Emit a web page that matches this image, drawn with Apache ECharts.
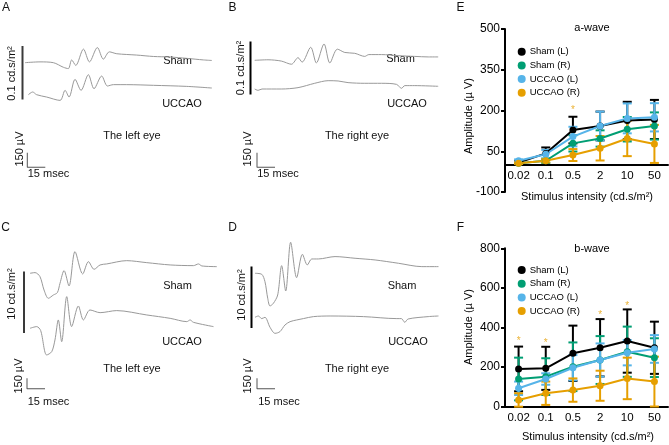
<!DOCTYPE html>
<html><head><meta charset="utf-8">
<script src="https://cdn.jsdelivr.net/npm/echarts@6/dist/echarts.min.js"></script>
<style>html,body{margin:0;padding:0;background:#fff}#c{width:669px;height:445px}</style>
</head><body><div id="c"></div>
<script>
// ---------- DATA ----------
// ERG traces: [time (ms), amplitude (µV)]
const aShamTrace = [[0,0],[12.5,10],[23.6,0],[32,-59],[36.1,-76],[38.9,35],[42.3,-35],[48.7,173],[53.7,10],[60.3,193],[65.3,45],[70.3,138],[76.5,114],[93.1,97],[107,79],[121,72],[134.8,55],[148.7,35],[155.7,28]];
const aUccaoTrace = [[2.8,0],[6.4,28],[9.7,0],[18,-24],[29.2,-59],[33.4,45],[36.7,-24],[41.7,159],[46.7,45],[52.8,207],[57.5,62],[63.9,193],[68.7,90],[73.7,104],[84.8,104],[107,97],[134.8,86],[155.7,69]];
const bShamTrace = [[0,0],[11.1,7],[22.2,-10],[30.6,-52],[36.1,35],[39.5,-24],[46.7,173],[51.4,-35],[57.8,217],[62.6,-35],[68.9,148],[75.1,104],[83.4,93],[91.7,52],[95.1,76],[105.6,76],[119.5,62],[133.4,52],[144.6,45],[152.9,45]];
const bUccaoTrace = [[0,0],[2.8,-14],[6.1,0],[22.2,0],[36.1,14],[50,59],[61.2,86],[69.5,83],[77.8,66],[91.7,59],[105.6,59],[118.2,48],[122.3,7],[125.1,35],[133.4,35],[152.9,28]];
const cShamTrace = [[0,0],[4.2,9],[8.3,-43],[11.7,-218],[15.3,-326],[19.5,-283],[22.8,-252],[25,-130],[28.4,35],[32.5,-165],[37.5,283],[43.9,-9],[48.7,152],[53.4,52],[58.4,109],[63.9,122],[80.6,165],[97.3,139],[116.8,109],[136.2,100],[140.4,122],[143.2,96],[155.7,87]];
const cUccaoTrace = [[0,0],[5.6,22],[8.9,-30],[13.9,-348],[18.1,-305],[20.8,-152],[23.6,109],[26.4,-174],[30.6,413],[34.7,22],[40.3,291],[44.5,109],[50,239],[58.4,204],[72.3,231],[97.3,174],[116.8,130],[130.7,87],[133.4,109],[136.2,78],[152.9,22]];
const dShamTrace = [[0,0],[5.6,-13],[8.3,-109],[10.6,-326],[12.5,-426],[15.3,-392],[18.9,-283],[22.2,100],[25.6,-231],[29.7,405],[34.7,-57],[39.5,248],[43.6,109],[47.3,187],[52.8,187],[66.7,218],[83.4,196],[100.1,174],[119.5,131],[139,87],[152.9,87]];
const dUccaoTrace = [[0,0],[2.8,17],[5.6,-17],[8.3,0],[12.5,-130],[16.7,-209],[20.8,-187],[25,-100],[29.2,-57],[34.7,-35],[40.3,-17],[48.7,9],[62.6,17],[90.4,9],[118.2,-17],[122,-17],[124.8,-65],[127.6,-22],[144.3,9],[152.9,17]];
// scale bar: 150 µV vertical, 15 msec horizontal
const scaleBar = [[0,150],[0,0],[15,0]];

// E / F charts
const intensities = ['0.02','0.1','0.5','2','10','50'];
const seriesNames = ['Sham (L)','Sham (R)','UCCAO (L)','UCCAO (R)'];
// a-wave means and SD
const aShamL = [8,42,128,143,163,167];
const aShamLsd = [5,22,49,53,69,72];
const aShamR = [6,15,79,97,131,143];
const aShamRsd = [3,8,30,30,45,50];
const aUccaoL = [15,39,104,143,171,175];
const aUccaoLsd = [5,16,36,53,55,52];
const aUccaoR = [6,15,36,61,97,77];
const aUccaoRsd = [3,6,22,45,65,70];
const aStarCats = ['0.5'];
const aStarValues = [212];
const aTicks = [-100,50,200,350,500];
// b-wave means and SD
const bShamL = [190,193,269,297,331,297];
const bShamLsd = [113,109,140,145,160,132];
const bShamR = [139,151,201,235,277,247];
const bShamRsd = [108,93,123,121,127,98];
const bUccaoL = [92,139,196,235,272,291];
const bUccaoLsd = [34,29,64,84,64,70];
const bUccaoR = [33,67,83,105,142,126];
const bUccaoRsd = [34,59,59,76,105,126];
const bStarCats = ['0.02','0.1','2','10'];
const bStarValues = [345,336,476,521];
const bTicks = [0,200,400,600,800];

// ---------- BUILD ----------
const FONT = '"Liberation Sans", Arial, Helvetica, sans-serif';
const COLORS = ['#000000','#009E73','#56B4E9','#E69F00'];
const grids = [], xAxes = [], yAxes = [], series = [], graphics = [];

// E & F grids
const E_GRID = {left:505, top:29, width:163, height:163};
grids.push(E_GRID);
grids.push({left:505, top:248.3, width:163, height:158.2});
function valueAxis(gi, min, max, ticks){
  return {type:'value', gridIndex:gi, min, max,
    axisLine:{show:true, onZero:false, lineStyle:{color:'#000', width:2}},
    axisTick:{show:true, length:4, customValues:ticks, lineStyle:{color:'#000', width:2}},
    axisLabel:{customValues:ticks, fontSize:12, color:'#000', margin:5, fontFamily:FONT},
    splitLine:{show:false}};
}
function catAxis(gi, offset){
  return {type:'category', gridIndex:gi, data:intensities, position:'bottom', offset,
    axisLine:{onZero:false, lineStyle:{color:'#000', width:2}},
    axisTick:{show:false},
    axisLabel:{interval:0, fontSize:11.5, color:'#000', margin:5, fontFamily:FONT}};
}
// E: x-axis sits on the zero line (offset from the grid bottom = height * 100/600)
xAxes.push(catAxis(0, -E_GRID.height*(0-(-100))/(500-(-100))));
xAxes.push(catAxis(1, 0));
yAxes.push(valueAxis(0,-100,500,aTicks)); yAxes.push(valueAxis(1,0,800,bTicks));

function errSeries(gi, means, sds, color){
  return {type:'custom', xAxisIndex:gi, yAxisIndex:gi, silent:true, z:2, animation:false,
    data: means.map((m,i)=>[i,m,sds[i]]),
    encode:{x:0, y:1},
    renderItem:(params, api)=>{
      const i=api.value(0), m=api.value(1), s=api.value(2);
      const p1=api.coord([i,m+s]), p2=api.coord([i,m-s]); const w=4.5;
      const st={stroke:color, lineWidth:2};
      return {type:'group', children:[
        {type:'line', shape:{x1:p1[0],y1:p1[1],x2:p2[0],y2:p2[1]}, style:st},
        {type:'line', shape:{x1:p1[0]-w,y1:p1[1],x2:p1[0]+w,y2:p1[1]}, style:st},
        {type:'line', shape:{x1:p2[0]-w,y1:p2[1],x2:p2[0]+w,y2:p2[1]}, style:st}
      ]};
    }};
}
function lineSeries(gi, name, means, color){
  return {type:'line', name, xAxisIndex:gi, yAxisIndex:gi, data:means, symbol:'circle', symbolSize:7,
    lineStyle:{width:2, color}, itemStyle:{color}, z:3, animation:false};
}
const aSets = [[aShamL,aShamLsd],[aShamR,aShamRsd],[aUccaoL,aUccaoLsd],[aUccaoR,aUccaoRsd]];
const bSets = [[bShamL,bShamLsd],[bShamR,bShamRsd],[bUccaoL,bUccaoLsd],[bUccaoR,bUccaoRsd]];
[aSets,bSets].forEach((sets,gi)=>{
  sets.forEach((s,k)=>{
    series.push(errSeries(gi, s[0], s[1], COLORS[k]));
    series.push(lineSeries(gi, seriesNames[k], s[0], COLORS[k]));
  });
});
function starSeries(gi, cats, vals){
  return {type:'scatter', xAxisIndex:gi, yAxisIndex:gi, symbol:'circle', symbolSize:0.1, silent:true, z:4,
    itemStyle:{color:'transparent'}, animation:false,
    data: cats.map((c,i)=>[c, vals[i]]),
    label:{show:true, position:'inside', formatter:'*', color:COLORS[3], fontSize:10, offset:[0,3], fontFamily:FONT}};
}
series.push(starSeries(0, aStarCats, aStarValues));
series.push(starSeries(1, bStarCats, bStarValues));

// ERG trace grids
const PX_PER_MS = 1.2, T_MAX = 156, R = 800;
function addTrace(data, leftPx, baseY, uvPerPx, color, width){
  const h = 2*R/uvPerPx;
  grids.push({left:leftPx, top:baseY-h/2, width:T_MAX*PX_PER_MS, height:h});
  const gi = grids.length-1;
  xAxes.push({type:'value', gridIndex:gi, min:0, max:T_MAX, show:false});
  yAxes.push({type:'value', gridIndex:gi, min:-R, max:R, show:false});
  series.push({type:'line', xAxisIndex:gi, yAxisIndex:gi, data, symbol:'none', showSymbol:false,
    smooth: width>1 ? false : 0.3, clip:false, silent:true, animation:false,
    lineStyle:{color, width}});
}
const TR = '#999999', SB = '#555';
const AB = 150/14.5, CD = 150/11.5;
addTrace(aShamTrace, 25, 48, AB, TR, 1);
addTrace(aUccaoTrace, 25, 94.7, AB, TR, 1);
addTrace(scaleBar, 27.3, 167.3, AB, SB, 1.01);
addTrace(bShamTrace, 254.7, 43.3, AB, TR, 1);
addTrace(bUccaoTrace, 254.7, 89, AB, TR, 1);
addTrace(scaleBar, 257, 167.3, AB, SB, 1.01);
addTrace(cShamTrace, 30, 273.3, CD, TR, 1);
addTrace(cUccaoTrace, 30, 328.3, CD, TR, 1);
addTrace(scaleBar, 27, 394, CD, SB, 1.01);
addTrace(dShamTrace, 255, 273.3, CD, TR, 1);
addTrace(dUccaoTrace, 255, 317.3, CD, TR, 1);
addTrace(scaleBar, 257, 394, CD, SB, 1.01);

// ---------- GRAPHIC TEXT / DECOR ----------
function txt(text, x, y, size, rot, color){
  return {type:'text', x, y, rotation: rot ? Math.PI/2 : 0, silent:true,
    style:{text, font:`${size}px ${FONT}`, fill: color||'#111',
      align:'center', verticalAlign:'middle', textAlign:'center', textVerticalAlign:'middle'}};
}
function vbar(x, y1, y2, color){
  return {type:'line', silent:true, shape:{x1:x,y1:y1,x2:x,y2:y2}, style:{stroke:color, lineWidth:2}};
}
graphics.push(txt('A',6,7.5,12), txt('B',232.5,7.5,12), txt('C',5.5,228,12), txt('D',232.5,228,12),
  txt('E',460.5,7.5,12), txt('F',460.5,228,12));
graphics.push(vbar(22.5,46,99.5,'#3a3a3a'), vbar(250.5,41.5,94.5,'#000'), vbar(24,271.5,333,'#3a3a3a'), vbar(251.5,266.5,328,'#000'));
graphics.push(txt('0.1 cd.s/m²',12,73.5,11,true), txt('0.1 cd.s/m²',241,68,11,true),
  txt('10 cd.s/m²',12,294,11,true), txt('10 cd.s/m²',242,295,11,true));
graphics.push(txt('Sham',177.5,60.5,11), txt('UCCAO',182,104,11), txt('The left eye',132,136,11),
  txt('Sham',400.5,59,11), txt('UCCAO',407,104,11), txt('The right eye',357,136,11),
  txt('Sham',177.5,286,11), txt('UCCAO',182,342,11), txt('The left eye',132,369,11),
  txt('Sham',402,285.7,11), txt('UCCAO',408,342,11), txt('The right eye',357,369,11));
graphics.push(txt('150 µV',19.5,149,11,true), txt('150 µV',248,149,11,true),
  txt('150 µV',18.5,376,11,true), txt('150 µV',248,376,11,true));
graphics.push(txt('15 msec',48.5,174,11), txt('15 msec',278,174,11),
  txt('15 msec',48.5,402,11), txt('15 msec',279,402,11));
graphics.push(txt('a-wave',592,28,11,false,'#000'), txt('b-wave',592,248.5,11,false,'#000'),
  txt('Amplitude (µ V)',468.5,116,11,true,'#000'), txt('Amplitude (µ V)',468.5,327,11,true,'#000'),
  txt('Stimulus intensity (cd.s/m²)',587,197,11,false,'#000'),
  txt('Stimulus intensity (cd.s/m²)',588,437,11,false,'#000'));

const legendBase = {orient:'vertical', left:512.7, icon:'circle', itemWidth:8, itemHeight:8, itemGap:3.7,
  data: seriesNames, selectedMode:false,
  textStyle:{fontSize:9.5, lineHeight:10, color:'#000', fontFamily:FONT, padding:[0,0,0,-1]}};
const chart = echarts.init(document.getElementById('c'), null, {renderer:'canvas'});
chart.setOption({
  animation:false,
  backgroundColor:'#fff',
  textStyle:{fontFamily:FONT},
  grid: grids, xAxis: xAxes, yAxis: yAxes, series,
  legend:[Object.assign({top:41.7}, legendBase), Object.assign({top:260}, legendBase)],
  graphic:{elements:graphics}
});
</script></body></html>
